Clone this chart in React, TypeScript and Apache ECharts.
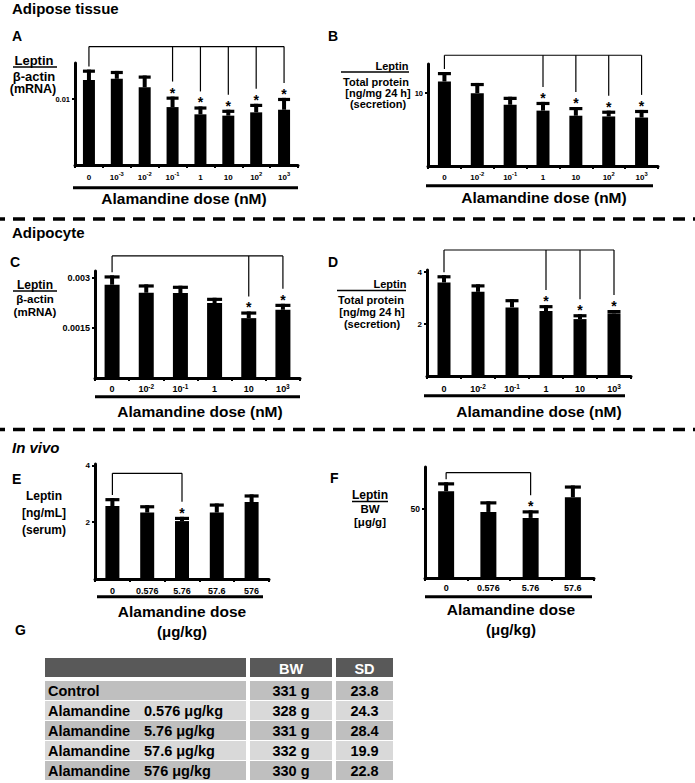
import React, { useEffect, useRef } from "react";
import * as echarts from "echarts";

const FONT = "'Liberation Sans', Arial, Helvetica, sans-serif";

// ---------------- data ----------------
// A: adipose tissue, leptin / beta-actin mRNA
const dosesA = ["0", "10^-3", "10^-2", "10^-1", "1", "10", "10^2", "10^3"];
const meanA = [0.0129, 0.0131, 0.0118, 0.0088, 0.0077, 0.0075, 0.008, 0.0084];
const semA = [0.0016, 0.0012, 0.0018, 0.0016, 0.0012, 0.0009, 0.0013, 0.0018];
const sigA = [3, 4, 5, 6, 7];
const ticksA = [0.01];

// B: adipose tissue, leptin secretion
const dosesB = ["0", "10^-2", "10^-1", "1", "10", "10^2", "10^3"];
const meanB = [11.6, 10.0, 8.4, 7.6, 6.9, 6.8, 6.65];
const semB = [1.3, 1.4, 1.1, 1.2, 1.2, 0.8, 1.05];
const sigB = [3, 4, 5, 6];
const ticksB = [10];

// C: adipocyte, leptin / beta-actin mRNA
const dosesC = ["0", "10^-2", "10^-1", "1", "10", "10^3"];
const meanC = [0.00279, 0.00255, 0.00254, 0.00224, 0.00179, 0.00204];
const semC = [0.00028, 0.00025, 0.00022, 0.00016, 0.0002, 0.00018];
const sigC = [4, 5];
const ticksC = [0.0015, 0.003];

// D: adipocyte, leptin secretion
const dosesD = ["0", "10^-2", "10^-1", "1", "10", "10^3"];
const meanD = [3.6, 3.24, 2.64, 2.5, 2.19, 2.41];
const semD = [0.28, 0.29, 0.32, 0.23, 0.19, 0.13];
const sigD = [3, 4, 5];
const ticksD = [2, 4];

// E: in vivo, serum leptin
const dosesE = ["0", "0.576", "5.76", "57.6", "576"];
const meanE = [2.57, 2.34, 2.04, 2.34, 2.71];
const semE = [0.28, 0.26, 0.15, 0.32, 0.27];
const sigE = [2];
const ticksE = [2, 4];

// F: in vivo, leptin / BW
const dosesF = ["0", "0.576", "5.76", "57.6"];
const meanF = [62.5, 47.6, 43.3, 58.2];
const semF = [6.5, 7.7, 5.5, 8.5];
const sigF = [2];
const ticksF = [50];

// significance bracket heights (data units)
const bracketLevels = [0.018, 15.2, 0.00365, 4.85, 3.72, 76];

// G: table
const tableHeader = ["", "BW", "SD"];
const tableGroup = ["Control", "Alamandine", "Alamandine", "Alamandine", "Alamandine"];
const tableDose = ["", "0.576 μg/kg", "5.76 μg/kg", "57.6 μg/kg", "576 μg/kg"];
const tableBW = ["331 g", "328 g", "331 g", "332 g", "330 g"];
const tableSD = ["23.8", "24.3", "28.4", "19.9", "22.8"];

// ---------------- layout ----------------
const panels = [
  { cats: dosesA, mean: meanA, sem: semA, sig: sigA, ticks: ticksA, grid: { left: 75, top: 63, width: 223, height: 102 }, max: 0.0155, barW: 12, xFont: 8, yFont: 7.5, xMargin: 6 },
  { cats: dosesB, mean: meanB, sem: semB, sig: sigB, ticks: ticksB, grid: { left: 428, top: 64, width: 230, height: 102 }, max: 14, barW: 13, xFont: 8, yFont: 7.5, xMargin: 5 },
  { cats: dosesC, mean: meanC, sem: semC, sig: sigC, ticks: ticksC, grid: { left: 95, top: 271, width: 205, height: 107 }, max: 0.0032, barW: 15, xFont: 9, yFont: 9, xMargin: 5 },
  { cats: dosesD, mean: meanD, sem: semD, sig: sigD, ticks: ticksD, grid: { left: 427, top: 270, width: 204, height: 106 }, max: 4.08, barW: 13, xFont: 9, yFont: 8, xMargin: 7 },
  { cats: dosesE, mean: meanE, sem: semE, sig: sigE, ticks: ticksE, grid: { left: 95, top: 464, width: 174, height: 115 }, max: 4.05, barW: 14, xFont: 9, yFont: 8, xMargin: 6 },
  { cats: dosesF, mean: meanF, sem: semF, sig: sigF, ticks: ticksF, grid: { left: 425, top: 467, width: 169, height: 111 }, max: 80, barW: 16, xFont: 9, yFont: 8.5, xMargin: 4 },
];

const fmtCat = (v: string) => {
  const m = /^10\^(-?\d+)$/.exec(v);
  return m ? `{b|10}{s|${m[1]}}` : `{b|${v}}`;
};

const txt = (text: string, x: number, y: number, size: number, align = "left", style = "bold", color = "#000") => ({
  type: "text",
  x,
  y,
  silent: true,
  style: { text, fill: color, font: `${style} ${size}px ${FONT}`, align, verticalAlign: "middle" },
});
const hline = (x1: number, x2: number, y: number, w: number) => ({
  type: "line",
  silent: true,
  shape: { x1, y1: y, x2, y2: y },
  style: { stroke: "#000", lineWidth: w },
});

function buildOption() {
  const grid: any[] = [];
  const xAxis: any[] = [];
  const yAxis: any[] = [];
  const series: any[] = [];

  panels.forEach((p, pi) => {
    grid.push({ ...p.grid, containLabel: false });
    xAxis.push({
      type: "category",
      gridIndex: pi,
      data: p.cats,
      axisLine: { lineStyle: { color: "#000", width: 3 } },
      axisTick: { show: true, interval: 0, length: 3, lineStyle: { color: "#000", width: 2 } },
      axisLabel: {
        interval: 0,
        margin: p.xMargin,
        formatter: fmtCat,
        rich: {
          b: { fontSize: p.xFont, fontWeight: "bold", fontFamily: FONT, color: "#000", lineHeight: 12 },
          s: { fontSize: p.xFont * 0.72, fontWeight: "bold", fontFamily: FONT, color: "#000", lineHeight: 7, verticalAlign: "top" },
        },
      },
      splitLine: { show: false },
    });
    yAxis.push({
      type: "value",
      gridIndex: pi,
      min: 0,
      max: p.max,
      axisLine: { show: true, lineStyle: { color: "#000", width: 3 } },
      axisTick: { show: true, length: 3, lineStyle: { color: "#000", width: 2 }, customValues: p.ticks },
      axisLabel: {
        customValues: p.ticks,
        margin: 5,
        fontSize: p.yFont,
        fontWeight: "bold",
        fontFamily: FONT,
        color: "#000",
        formatter: (v: number) => String(Number(v.toPrecision(6))),
      },
      splitLine: { show: false },
    });
    series.push({
      type: "bar",
      xAxisIndex: pi,
      yAxisIndex: pi,
      data: p.mean,
      barWidth: p.barW,
      itemStyle: { color: "#000" },
      silent: true,
    });
    const capW = p.barW;
    series.push({
      type: "custom",
      xAxisIndex: pi,
      yAxisIndex: pi,
      silent: true,
      z: 3,
      data: p.mean.map((m, i) => [i, m, p.sem[i]]),
      renderItem: (params: any, api: any) => {
        const i = api.value(0);
        const m = api.value(1);
        const e = api.value(2);
        const b = api.coord([i, m]);
        const t = api.coord([i, m + e]);
        return {
          type: "group",
          children: [
            { type: "rect", shape: { x: b[0] - 2, y: t[1], width: 4, height: b[1] - t[1] }, style: { fill: "#000" } },
            { type: "rect", shape: { x: t[0] - capW / 2, y: t[1], width: capW, height: 3.2 }, style: { fill: "#000" } },
          ],
        };
      },
    });
    const last = p.sig[p.sig.length - 1];
    const level = bracketLevels[pi];
    const items = [[0, p.mean[0] + p.sem[0], 0, last, level]].concat(
      p.sig.map((s) => [s, p.mean[s] + p.sem[s], 1, last, level])
    );
    series.push({
      type: "custom",
      xAxisIndex: pi,
      yAxisIndex: pi,
      silent: true,
      clip: false,
      z: 4,
      data: items,
      renderItem: (params: any, api: any) => {
        const i = api.value(0);
        const top = api.value(1);
        const kind = api.value(2);
        const lastI = api.value(3);
        const lev = api.value(4);
        const pt = api.coord([i, top]);
        const yb = api.coord([i, lev])[1];
        const children: any[] = [];
        const endY = kind === 0 ? pt[1] - 3 : pt[1] - 15;
        children.push({ type: "line", shape: { x1: pt[0], y1: yb, x2: pt[0], y2: endY }, style: { stroke: "#000", lineWidth: 1.2 } });
        if (kind === 0) {
          const xl = api.coord([lastI, lev])[0];
          children.push({ type: "line", shape: { x1: pt[0], y1: yb, x2: xl, y2: yb }, style: { stroke: "#000", lineWidth: 1.2 } });
        } else {
          children.push({
            type: "text",
            x: pt[0],
            y: pt[1] - 4,
            style: { text: "*", fill: "#000", font: `bold 14px ${FONT}`, align: "center", verticalAlign: "middle" },
          });
        }
        return { type: "group", children };
      },
    });
  });

  // ---------- graphic annotations ----------
  const g: any[] = [];
  // section headers
  g.push(txt("Adipose tissue", 12, 8, 15));
  g.push(txt("Adipocyte", 12, 232, 15));
  g.push(txt("In vivo", 12, 447, 15, "left", "italic bold"));
  // panel letters
  g.push(txt("A", 12, 36, 14), txt("B", 328, 36, 14));
  g.push(txt("C", 10, 262, 14), txt("D", 328, 262, 14));
  g.push(txt("E", 12, 479, 14), txt("F", 330, 478, 14));
  g.push(txt("G", 15, 630, 14));
  // dashed separators
  [219, 429.5].forEach((y) =>
    g.push({ type: "line", silent: true, shape: { x1: 0, y1: y, x2: 695, y2: y }, style: { stroke: "#000", lineWidth: 3.5, lineDash: [12, 8], lineDashOffset: 7 } })
  );

  // y-axis titles
  // A
  g.push(txt("Leptin", 34, 60, 13, "center"), hline(13, 57, 67, 1.5), txt("β-actin", 34, 76, 13, "center"), txt("(mRNA)", 33, 89, 12.5, "center"));
  // B
  g.push(txt("Leptin", 392, 66, 11, "center"), hline(341, 409, 72, 1.5), txt("Total protein", 376, 82, 11, "center"), txt("[ng/mg 24 h]", 378, 93, 11, "center"), txt("(secretion)", 378, 104, 11, "center"));
  // C
  g.push(txt("Leptin", 35, 284.5, 12, "center"), hline(13, 57, 291, 1.5), txt("β-actin", 35, 298.5, 11.5, "center"), txt("(mRNA)", 35, 312, 11.5, "center"));
  // D
  g.push(txt("Leptin", 390, 284, 11, "center"), hline(337, 406, 290.5, 1.5), txt("Total protein", 371, 299.5, 11, "center"), txt("[ng/mg 24 h]", 372, 311.5, 11, "center"), txt("(secretion)", 372, 324, 11, "center"));
  // E
  g.push(txt("Leptin", 44, 496, 12, "center"), txt("[ng/mL]", 44, 513, 12, "center"), txt("(serum)", 44, 530, 12, "center"));
  // F
  g.push(txt("Leptin", 370, 494.5, 12, "center"), hline(352, 388, 501.5, 1.5), txt("BW", 370, 509, 11.5, "center"), txt("[μg/g]", 370, 522, 11.5, "center"));

  // x-axis group bars and titles
  const xb = [
    [73, 298, 187.7, 184, 198, "Alamandine dose (nM)", ""],
    [426, 653, 185.7, 544, 197, "Alamandine dose (nM)", ""],
    [95, 300, 396.7, 200, 411.7, "Alamandine dose (nM)", ""],
    [424, 625, 395.7, 539, 411.7, "Alamandine dose (nM)", ""],
    [97, 263, 596.7, 182, 611.7, "Alamandine dose", "(μg/kg)"],
    [425, 592, 596.7, 511, 609.5, "Alamandine dose", "(μg/kg)"],
  ] as const;
  xb.forEach(([x1, x2, y, cx, ty, t1, t2]) => {
    g.push({ type: "rect", silent: true, shape: { x: x1, y: y - 1.5, width: x2 - x1, height: 3 }, style: { fill: "#000" } });
    g.push(txt(t1, cx, ty, 15.5, "center"));
    if (t2) g.push(txt(t2, cx, ty + 20, 15, "center"));
  });

  // table G
  const colX = [45, 250, 336];
  const colW = [201, 82, 57];
  const headTop = 658;
  colX.forEach((x, c) => {
    g.push({ type: "rect", silent: true, shape: { x, y: headTop, width: colW[c], height: 19 }, style: { fill: "#595959" } });
    if (tableHeader[c]) g.push(txt(tableHeader[c], x + colW[c] / 2, headTop + 11, 14.5, "center", "bold", "#fff"));
  });
  tableGroup.forEach((grp, r) => {
    const top = 681 + r * 20;
    const fill = r % 2 === 0 ? "#bfbfbf" : "#d9d9d9";
    colX.forEach((x, c) => {
      g.push({ type: "rect", silent: true, shape: { x, y: top, width: colW[c], height: 19 }, style: { fill } });
    });
    const cy = top + 10;
    g.push(txt(grp, 48, cy, 14.5));
    if (tableDose[r]) g.push(txt(tableDose[r], 144, cy, 14.5));
    g.push(txt(tableBW[r], colX[1] + colW[1] / 2, cy, 14.5, "center"));
    g.push(txt(tableSD[r], colX[2] + colW[2] / 2, cy, 14.5, "center"));
  });

  return {
    animation: false,
    backgroundColor: "#fff",
    textStyle: { fontFamily: FONT },
    grid,
    xAxis,
    yAxis,
    series,
    graphic: { elements: g },
  };
}

export default function App() {
  const ref = useRef<HTMLDivElement>(null);
  useEffect(() => {
    if (!ref.current) return;
    const chart = echarts.init(ref.current, null, { renderer: "svg" });
    chart.setOption(buildOption() as any);
    return () => chart.dispose();
  }, []);
  return <div ref={ref} style={{ position: "absolute", left: 0, top: 0, width: 695, height: 783, background: "#fff" }} />;
}
